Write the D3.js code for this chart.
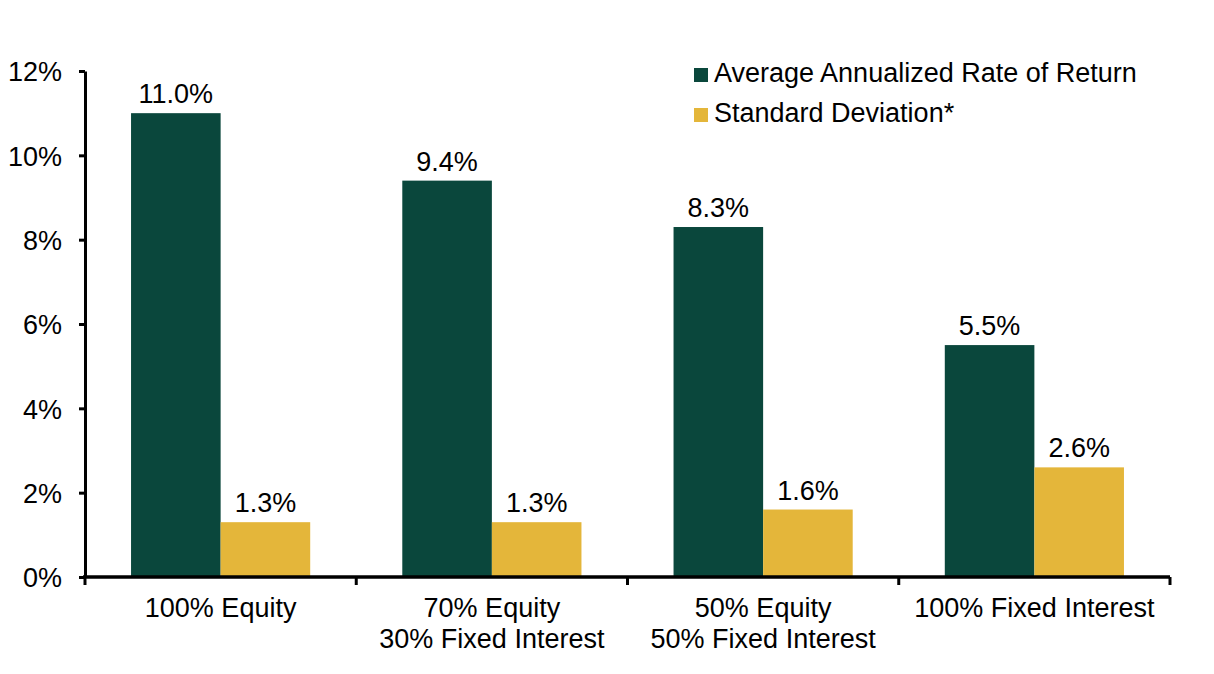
<!DOCTYPE html>
<html><head><meta charset="utf-8">
<script src="https://cdn.jsdelivr.net/npm/d3@7"></script>
<style>body{margin:0;background:#fff}svg{display:block}text{font-family:"Liberation Sans",Arial,sans-serif;fill:#000}</style>
</head><body>
<svg id="c" width="1214" height="674"></svg>
<script>
const categories = [["100% Equity"],["70% Equity","30% Fixed Interest"],["50% Equity","50% Fixed Interest"],["100% Fixed Interest"]];
const returnValues = [11.0, 9.4, 8.3, 5.5];
const stdDevValues = [1.3, 1.3, 1.6, 2.6];
const seriesNames = ["Average Annualized Rate of Return","Standard Deviation*"];
const yTicks = [0,2,4,6,8,10,12];
const colors = ["#0a473c","#e4b63a"];

const svg = d3.select("#c");
const pLeft=85, pRight=1170, pTop=71, pBottom=577;
const FS = 27;
const x = d3.scaleBand().domain(d3.range(categories.length)).range([pLeft,pRight]).paddingInner(0).paddingOuter(0);
const y = d3.scaleLinear().domain([0,12]).range([pBottom,pTop]);
const groupPad = 46/271;
const inner = d3.scaleBand().domain([0,1]).range([x.bandwidth()*groupPad, x.bandwidth()*(1-groupPad)]);

const series = [returnValues, stdDevValues];
series.forEach((vals,si)=>{
  const g = svg.append("g");
  g.selectAll("rect").data(vals).join("rect")
    .attr("x",(d,i)=>x(i)+inner(si)).attr("width",inner.bandwidth())
    .attr("y",d=>y(d)).attr("height",d=>y(0)-y(d))
    .attr("fill",colors[si]);
  g.selectAll("text").data(vals).join("text")
    .attr("x",(d,i)=>x(i)+inner(si)+inner.bandwidth()/2)
    .attr("y",d=>y(d)-10).attr("text-anchor","middle").attr("font-size",FS)
    .text(d=>d.toFixed(1)+"%");
});

// y axis
const ya = svg.append("g").attr("transform",`translate(${pLeft},0)`)
  .call(d3.axisLeft(y).tickValues(yTicks).tickFormat(d=>d+"%").tickSize(6).tickSizeOuter(0).tickPadding(17));
ya.select(".domain").attr("stroke","#000").attr("stroke-width",3);
ya.selectAll(".tick line").attr("stroke","#000").attr("stroke-width",3);
ya.selectAll(".tick text").attr("font-size",FS).attr("font-family","Liberation Sans, Arial, sans-serif").attr("fill","#000").attr("dy","0.36em");

// x axis
const xa = svg.append("g").attr("transform",`translate(0,${pBottom})`);
xa.append("line").attr("x1",pLeft-2).attr("x2",pRight).attr("y1",0).attr("y2",0).attr("stroke","#000").attr("stroke-width",3.5);
const xt = d3.range(categories.length+1).map(i=> i<categories.length? x(i): x(categories.length-1)+x.bandwidth());
xa.selectAll("line.t").data(xt).join("line").attr("class","t")
  .attr("x1",d=>d).attr("x2",d=>d).attr("y1",0).attr("y2",8).attr("stroke","#000").attr("stroke-width",3);
const lab = xa.selectAll("text.cat").data(categories).join("text").attr("class","cat")
  .attr("text-anchor","middle").attr("font-size",FS)
  .attr("x",(d,i)=>x(i)+x.bandwidth()/2);
lab.selectAll("tspan").data(d=>d).join("tspan")
  .attr("x",function(){return this.parentNode.getAttribute("x");})
  .attr("y",(d,j)=>40+j*31).text(d=>d);

// legend
const lg = svg.append("g").attr("transform","translate(694,68)");
seriesNames.forEach((n,i)=>{
  lg.append("rect").attr("x",0).attr("y",i*40).attr("width",14).attr("height",14).attr("fill",colors[i]);
  lg.append("text").attr("x",20).attr("y",i*40+14).attr("font-size",FS).text(n);
});
</script>
</body></html>
